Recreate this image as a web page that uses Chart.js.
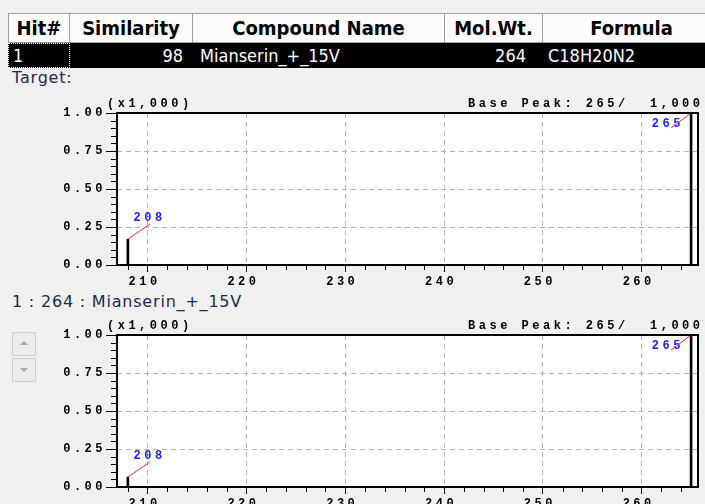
<!DOCTYPE html>
<html>
<head>
<meta charset="utf-8">
<title>Library search result</title>
<script src="https://cdn.jsdelivr.net/npm/chart.js@4.4.1/dist/chart.umd.min.js"></script>
<style>
html,body{margin:0;padding:0;}
body{width:705px;height:504px;overflow:hidden;background:#f0f0f0;position:relative;}
.cell{position:absolute;box-sizing:border-box;white-space:nowrap;overflow:hidden;
  font-family:"DejaVu Sans Condensed","DejaVu Sans",sans-serif;font-stretch:condensed;}
.hd{top:13px;height:30px;background:#fcfcfc;border:1px solid #a0a0a0;border-left:none;
  font-weight:bold;font-size:20px;line-height:28px;text-align:center;color:#000;}
.hd.first{border-left:1px solid #a0a0a0;}
.row{top:43px;height:25px;background:#000;color:#fff;font-size:18px;line-height:25px;}
.row.focus{outline:1px dotted #fff;outline-offset:-1px;}
.lbl{position:absolute;left:12px;font:16px/16px "DejaVu Sans",sans-serif;letter-spacing:0.8px;color:#1c2a50;white-space:nowrap;}
.btn{position:absolute;left:12px;width:24px;height:24px;box-sizing:border-box;border:1px solid #cfcfcf;background:#ececec;}
.btn::after{content:"";position:absolute;left:7px;border-left:4px solid transparent;border-right:4px solid transparent;}
.up::after{top:8px;border-bottom:4px solid #a8a8a8;}
.down::after{top:9px;border-top:4px solid #a8a8a8;}
canvas{position:absolute;left:0;}
</style>
</head>
<body>
<div id="table"></div>
<div class="lbl" id="targetLbl" style="top:70px">Target:</div>
<canvas id="targetChart" width="705" height="200" style="top:90px"></canvas>
<div class="lbl" id="hitLbl" style="top:294px"></div>
<canvas id="hitChart" width="705" height="200" style="top:312px"></canvas>
<div class="btn up" style="top:332px"></div>
<div class="btn down" style="top:358px"></div>
<script>
// data
const headers = ['Hit#', 'Similarity', 'Compound Name', 'Mol.Wt.', 'Formula'];
const hitRow = ['1', '98', 'Mianserin_+_15V', '264', 'C18H20N2'];
const mz = [208, 265];
const targetAbund = [170, 1000];
const hitAbund = [66, 1000];
const xTicks = [210, 220, 230, 240, 250, 260];
const yTicks = [0, 250, 500, 750, 1000];

// table layout
const colX = [8, 70, 193, 445, 543, 721];
const rowAlign = ['left', 'right', 'left', 'right', 'left'];
const rowPad = [5, 10, 7, 17, 5];

const table = document.getElementById('table');
headers.forEach((h, i) => {
  const hd = document.createElement('div');
  hd.className = 'cell hd' + (i === 0 ? ' first' : '');
  hd.style.left = colX[i] + 'px';
  hd.style.width = (colX[i + 1] - colX[i]) + 'px';
  hd.textContent = h;
  table.appendChild(hd);

  const cell = document.createElement('div');
  cell.className = 'cell row' + (i === 0 ? ' focus' : '');
  cell.style.left = colX[i] + 'px';
  cell.style.width = (colX[i + 1] - colX[i]) + 'px';
  cell.style.textAlign = rowAlign[i];
  cell.style['padding' + (rowAlign[i] === 'left' ? 'Left' : 'Right')] = rowPad[i] + 'px';
  cell.textContent = hitRow[i];
  table.appendChild(cell);
});
document.getElementById('hitLbl').textContent = hitRow[0] + ' : ' + hitRow[3] + ' : ' + hitRow[2];

// spectra
const MONO_FAMILY = '"Liberation Mono", "DejaVu Sans Mono", monospace';
const MONO = 'bold 12px ' + MONO_FAMILY;
const SPACING = 3.5;

function spaced(ctx, text, x, y, align) {
  const w = ctx.measureText(text).width - SPACING;
  let left = x;
  if (align === 'right') left = x - w;
  if (align === 'center') left = x - w / 2;
  ctx.fillText(text, left, y);
}

const spectrumPlugin = {
  id: 'spectrum',
  beforeDraw(chart) {
    const { ctx, chartArea: a } = chart;
    ctx.letterSpacing = SPACING + 'px';
    ctx.save();
    ctx.fillStyle = '#fff';
    ctx.fillRect(a.left, a.top, a.right - a.left, a.bottom - a.top);
    ctx.restore();
  },
  afterDatasetsDraw(chart) {
    const { ctx, chartArea: a } = chart;
    const pts = chart.data.datasets[0].data;
    ctx.save();
    ctx.font = MONO;
    ctx.textAlign = 'left';
    chart.getDatasetMeta(0).data.forEach((bar, i) => {
      const nearTop = bar.y - a.top < 30;
      const ex = nearTop ? bar.x - 20 : bar.x + 22;
      const ey = nearTop ? bar.y + 15 : bar.y - 15;
      ctx.fillStyle = '#1e1eff';
      spaced(ctx, String(pts[i].x), nearTop ? ex - 5 : ex - 2, nearTop ? ey - 1 : ey - 3, 'center');
      ctx.strokeStyle = '#ff3030';
      ctx.lineWidth = 1;
      ctx.beginPath();
      ctx.moveTo(bar.x, bar.y);
      ctx.lineTo(ex, ey);
      ctx.stroke();
    });
    ctx.restore();
  },
  afterDraw(chart) {
    const { ctx, chartArea: a, scales } = chart;
    const xs = scales.x, ys = scales.y;
    ctx.save();
    ctx.strokeStyle = '#000';
    ctx.lineWidth = 1;
    ctx.beginPath();
    for (let v = Math.ceil(xs.min / 2) * 2; v <= xs.max; v += 2) {
      if (v % 10 === 0) continue;
      const px = Math.round(xs.getPixelForValue(v)) + 0.5;
      ctx.moveTo(px, a.bottom);
      ctx.lineTo(px, a.bottom + 5);
    }
    for (let v = 50; v < ys.max; v += 50) {
      if (v % 250 === 0) continue;
      const py = Math.round(ys.getPixelForValue(v)) + 0.5;
      ctx.moveTo(a.left - 6, py);
      ctx.lineTo(a.left, py);
    }
    ctx.stroke();
    ctx.lineWidth = 2;
    ctx.strokeRect(a.left, a.top, a.right - a.left, a.bottom - a.top);

    const vals = chart.data.datasets[0].data;
    let base = vals[0];
    vals.forEach(p => { if (p.y > base.y) base = p; });
    ctx.font = MONO;
    ctx.fillStyle = '#000';
    spaced(ctx, '(x1,000)', 107, 17, 'left');
    spaced(ctx, 'Base Peak: ' + base.x + '/  ' + base.y.toLocaleString('en-US'), 700, 17, 'right');
    ctx.restore();
  }
};

function makeChart(id, abund) {
  return new Chart(document.getElementById(id), {
    type: 'bar',
    data: {
      datasets: [{
        data: mz.map((m, i) => ({ x: m, y: abund[i] })),
        backgroundColor: '#000',
        borderWidth: 0,
        barThickness: 2
      }]
    },
    options: {
      responsive: false,
      animation: false,
      layout: { padding: { top: 23, right: 7, left: 0, bottom: 0 } },
      plugins: { legend: { display: false }, tooltip: { enabled: false } },
      scales: {
        x: {
          type: 'linear',
          min: 206.9,
          max: 265.7,
          offset: false,
          afterBuildTicks: s => { s.ticks = xTicks.map(v => ({ value: v })); },
          afterFit: s => { s.height = 25; },
          grid: { offset: false, color: '#b4b4b4', tickColor: '#000', tickLength: 7, lineWidth: 1 },
          border: { display: false, dash: [5, 4] },
          ticks: { color: '#000', font: { family: MONO_FAMILY, size: 12, weight: 'bold' },
                   padding: 3, labelOffset: -3, maxRotation: 0, autoSkip: false }
        },
        y: {
          min: 0,
          max: 1000,
          afterBuildTicks: s => { s.ticks = yTicks.map(v => ({ value: v })); },
          afterFit: s => { s.width = 117; },
          grid: {
            color: c => (c.tick && (c.tick.value === 0 || c.tick.value === 1000)) ? 'rgba(0,0,0,0)' : '#b4b4b4',
            tickColor: '#000', tickLength: 11, lineWidth: 1
          },
          border: { display: false, dash: [5, 4] },
          ticks: { color: '#000', font: { family: MONO_FAMILY, size: 12, weight: 'bold' },
                   padding: 0, callback: v => (v / 1000).toFixed(2) }
        }
      }
    },
    plugins: [spectrumPlugin]
  });
}

makeChart('targetChart', targetAbund);
makeChart('hitChart', hitAbund);
</script>
</body>
</html>
